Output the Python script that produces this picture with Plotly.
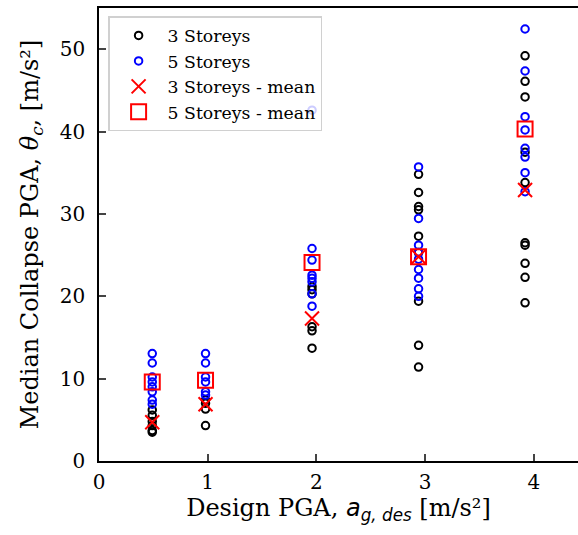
import plotly.graph_objects as go

design_pga = [0.49, 0.98, 1.96, 2.94, 3.92]

storeys3 = [
    [6.2, 5.55, 4.8, 4.3, 3.7, 3.5],
    [7.4, 7.0, 6.3, 4.3],
    [21.2, 20.8, 20.3, 16.3, 15.8, 13.7],
    [34.8, 32.6, 30.9, 30.5, 27.3, 25.3, 19.4, 14.05, 11.4],
    [49.2, 46.1, 44.2, 37.5, 33.8, 26.5, 26.2, 24.0, 22.3, 19.2],
]
storeys5 = [
    [13.05, 11.9, 10.2, 9.6, 9.0, 8.4, 7.4, 6.9],
    [13.05, 11.9, 10.2, 9.6, 8.4, 8.0],
    [42.6, 25.8, 24.4, 22.56, 22.2, 21.75, 20.3, 18.8],
    [35.7, 29.45, 26.2, 25.3, 24.5, 23.25, 22.2, 20.9, 20.0],
    [52.45, 47.35, 41.8, 40.2, 37.96, 36.9, 35.0, 32.7],
]
mean3 = [4.7, 6.9, 17.3, 24.8, 32.9]
mean5 = [9.6, 9.8, 24.1, 24.8, 40.3]


def flatten(groups):
    xs, ys = [], []
    for xv, vals in zip(design_pga, groups):
        for v in vals:
            xs.append(xv)
            ys.append(v)
    return xs, ys


x3, y3 = flatten(storeys3)
x5, y5 = flatten(storeys5)

FONT = "DejaVu Serif"
fig = go.Figure()
fig.add_trace(go.Scatter(x=x3, y=y3, mode="markers", name="3 Storeys",
                         marker=dict(symbol="circle-open", size=7.5, color="black",
                                     line=dict(width=2, color="black"))))
fig.add_trace(go.Scatter(x=x5, y=y5, mode="markers", name="5 Storeys",
                         marker=dict(symbol="circle-open", size=7.5, color="#0000ff",
                                     line=dict(width=2, color="#0000ff"))))
fig.add_trace(go.Scatter(x=design_pga, y=mean3, mode="markers", name="3 Storeys - mean",
                         marker=dict(symbol="x-thin-open", size=14, color="red",
                                     line=dict(width=2, color="red"))))
fig.add_trace(go.Scatter(x=design_pga, y=mean5, mode="markers", name="5 Storeys - mean",
                         marker=dict(symbol="square-open", size=15, color="red",
                                     line=dict(width=2, color="red"))))

fig.update_layout(
    width=578, height=535,
    margin=dict(l=99, r=0, t=8, b=74),
    plot_bgcolor="white", paper_bgcolor="white",
    font=dict(family=FONT, color="black", size=20),
    showlegend=True,
    legend=dict(x=0.019, y=0.982, xanchor="left", yanchor="top",
                bgcolor="rgba(255,255,255,0.8)", bordercolor="#d0d0d0", borderwidth=1.5,
                font=dict(family=FONT, size=17.3, color="black"), tracegroupgap=0,
                itemwidth=48),
)
fig.update_xaxes(range=[0, 4.407], tickvals=[0, 1, 2, 3, 4], ticks="inside", ticklen=7,
                 tickwidth=1.5, showline=True, linecolor="black", linewidth=1.5, mirror=True,
                 showgrid=False, zeroline=False, tickfont=dict(size=20),
                 ticklabelstandoff=2,
                 title=dict(text='Design PGA, <span style="font-family:DejaVu Sans"><i>a</i><sub><i>g, des</i></sub></span> [m/s²]',
                            font=dict(size=24), standoff=6))
fig.update_yaxes(range=[0, 55.0], tickvals=[0, 10, 20, 30, 40, 50], ticks="inside", ticklen=7,
                 tickwidth=1.5, showline=True, linecolor="black", linewidth=1.5, mirror=False,
                 showgrid=False, zeroline=False, tickfont=dict(size=20),
                 ticklabelstandoff=8,
                 title=dict(text="Median Collapse PGA, <i>θ</i><sub><i>c</i></sub>, [m/s²]",
                            font=dict(size=24), standoff=14))

fig.write_html("out.html")
